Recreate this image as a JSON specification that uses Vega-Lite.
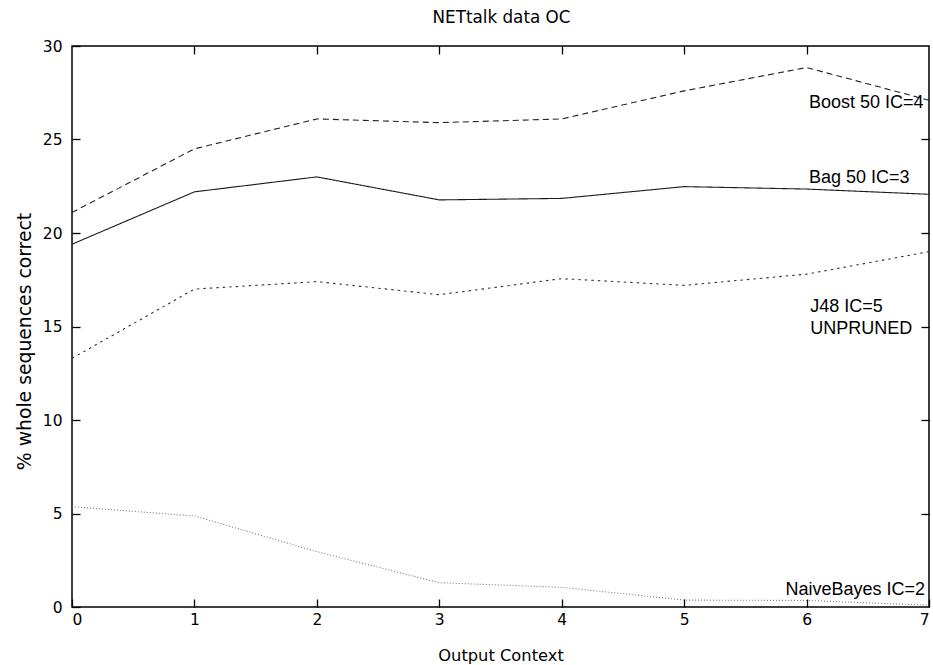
{
  "$schema": "https://vega.github.io/schema/vega-lite/v6.json",
  "autosize": "none",
  "width": 857,
  "height": 561,
  "padding": {"left": 72, "top": 46, "right": 4, "bottom": 58},
  "background": "white",
  "title": {
    "text": "NETtalk data OC",
    "font": "DejaVu Sans",
    "fontSize": 16.8,
    "fontWeight": "normal",
    "color": "black",
    "anchor": "middle",
    "dx": 1,
    "offset": 12
  },
  "config": {
    "view": {"stroke": "black", "strokeWidth": 1.5},
    "axis": {
      "domain": false,
      "grid": false,
      "ticks": true,
      "tickColor": "black",
      "tickWidth": 1.3,
      "tickSize": -8,
      "labelFont": "DejaVu Sans",
      "labelFontSize": 15.5,
      "labelColor": "black",
      "titleFont": "DejaVu Sans",
      "titleFontWeight": "normal",
      "titleColor": "black"
    },
    "text": {"font": "Liberation Sans", "fontSize": 18, "baseline": "middle", "color": "black"}
  },
  "datasets": {
    "runs": [
      {"series": "Boost 50 IC=4", "context": 0, "pct": 21.1},
      {"series": "Boost 50 IC=4", "context": 1, "pct": 24.5},
      {"series": "Boost 50 IC=4", "context": 2, "pct": 26.1},
      {"series": "Boost 50 IC=4", "context": 3, "pct": 25.9},
      {"series": "Boost 50 IC=4", "context": 4, "pct": 26.1},
      {"series": "Boost 50 IC=4", "context": 5, "pct": 27.6},
      {"series": "Boost 50 IC=4", "context": 6, "pct": 28.85},
      {"series": "Boost 50 IC=4", "context": 7, "pct": 27.1},
      {"series": "Bag 50 IC=3", "context": 0, "pct": 19.4},
      {"series": "Bag 50 IC=3", "context": 1, "pct": 22.2},
      {"series": "Bag 50 IC=3", "context": 2, "pct": 23.0},
      {"series": "Bag 50 IC=3", "context": 3, "pct": 21.77},
      {"series": "Bag 50 IC=3", "context": 4, "pct": 21.85},
      {"series": "Bag 50 IC=3", "context": 5, "pct": 22.48},
      {"series": "Bag 50 IC=3", "context": 6, "pct": 22.35},
      {"series": "Bag 50 IC=3", "context": 7, "pct": 22.07},
      {"series": "J48 IC=5 UNPRUNED", "context": 0, "pct": 13.3},
      {"series": "J48 IC=5 UNPRUNED", "context": 1, "pct": 17.0},
      {"series": "J48 IC=5 UNPRUNED", "context": 2, "pct": 17.4},
      {"series": "J48 IC=5 UNPRUNED", "context": 3, "pct": 16.7},
      {"series": "J48 IC=5 UNPRUNED", "context": 4, "pct": 17.56},
      {"series": "J48 IC=5 UNPRUNED", "context": 5, "pct": 17.2},
      {"series": "J48 IC=5 UNPRUNED", "context": 6, "pct": 17.8},
      {"series": "J48 IC=5 UNPRUNED", "context": 7, "pct": 19.0},
      {"series": "NaiveBayes IC=2", "context": 0, "pct": 5.36},
      {"series": "NaiveBayes IC=2", "context": 1, "pct": 4.87},
      {"series": "NaiveBayes IC=2", "context": 2, "pct": 2.96},
      {"series": "NaiveBayes IC=2", "context": 3, "pct": 1.3},
      {"series": "NaiveBayes IC=2", "context": 4, "pct": 1.05},
      {"series": "NaiveBayes IC=2", "context": 5, "pct": 0.37},
      {"series": "NaiveBayes IC=2", "context": 6, "pct": 0.35},
      {"series": "NaiveBayes IC=2", "context": 7, "pct": 0.1}
    ],
    "tags": [
      {"text": "Boost 50 IC=4", "context": 6.02, "pct": 26.97, "side": "left"},
      {"text": "Bag 50 IC=3", "context": 6.02, "pct": 22.96, "side": "left"},
      {"text": "J48 IC=5\nUNPRUNED", "context": 6.03, "pct": 16.04, "side": "left"},
      {"text": "NaiveBayes IC=2", "context": 6.967, "pct": 0.93, "side": "right"}
    ]
  },
  "layer": [
    {
      "data": {"name": "runs"},
      "mark": {"type": "line", "strokeWidth": 1.1},
      "encoding": {
        "x": {
          "field": "context",
          "type": "quantitative",
          "scale": {"domain": [0, 7], "nice": false, "zero": false},
          "axis": {
            "orient": "bottom",
            "values": [0, 1, 2, 3, 4, 5, 6, 7],
            "format": "d",
            "labelPadding": 13,
            "title": "Output Context",
            "titleFontSize": 16.3,
            "titlePadding": 20
          }
        },
        "y": {
          "field": "pct",
          "type": "quantitative",
          "scale": {"domain": [0, 30], "nice": false},
          "axis": {
            "orient": "left",
            "values": [0, 5, 10, 15, 20, 25, 30],
            "labelPadding": 18,
            "title": "% whole sequences correct",
            "titleFontSize": 18.8,
            "titleX": -48,
            "titleY": 295,
            "titleBaseline": "middle",
            "titleAngle": -90
          }
        },
        "detail": {"field": "series"},
        "color": {
          "field": "series",
          "type": "nominal",
          "scale": {
            "domain": ["Boost 50 IC=4", "Bag 50 IC=3", "J48 IC=5 UNPRUNED", "NaiveBayes IC=2"],
            "range": ["#222222", "#1a1a1a", "#333333", "#777777"]
          },
          "legend": null
        },
        "strokeDash": {
          "field": "series",
          "type": "nominal",
          "scale": {
            "domain": ["Boost 50 IC=4", "Bag 50 IC=3", "J48 IC=5 UNPRUNED", "NaiveBayes IC=2"],
            "range": [[6, 4], [1, 0], [2.5, 4], [1, 2]]
          },
          "legend": null
        }
      }
    },
    {
      "data": {"name": "tags"},
      "transform": [{"filter": "datum.side === 'left'"}],
      "mark": {"type": "text", "align": "left", "lineBreak": "\n", "lineHeight": 22},
      "encoding": {
        "x": {
          "field": "context",
          "type": "quantitative",
          "scale": {"domain": [0, 7], "nice": false, "zero": false},
          "axis": {"orient": "top", "values": [1, 2, 3, 4, 5, 6], "labels": false, "title": null}
        },
        "y": {
          "field": "pct",
          "type": "quantitative",
          "scale": {"domain": [0, 30], "nice": false},
          "axis": {"orient": "right", "values": [5, 10, 15, 20, 25], "labels": false, "title": null}
        },
        "text": {"field": "text"}
      }
    },
    {
      "data": {"name": "tags"},
      "transform": [{"filter": "datum.side === 'right'"}],
      "mark": {"type": "text", "align": "right"},
      "encoding": {
        "x": {"field": "context", "type": "quantitative", "axis": null},
        "y": {"field": "pct", "type": "quantitative", "axis": null},
        "text": {"field": "text"}
      }
    }
  ],
  "resolve": {"axis": {"x": "independent", "y": "independent"}}
}
